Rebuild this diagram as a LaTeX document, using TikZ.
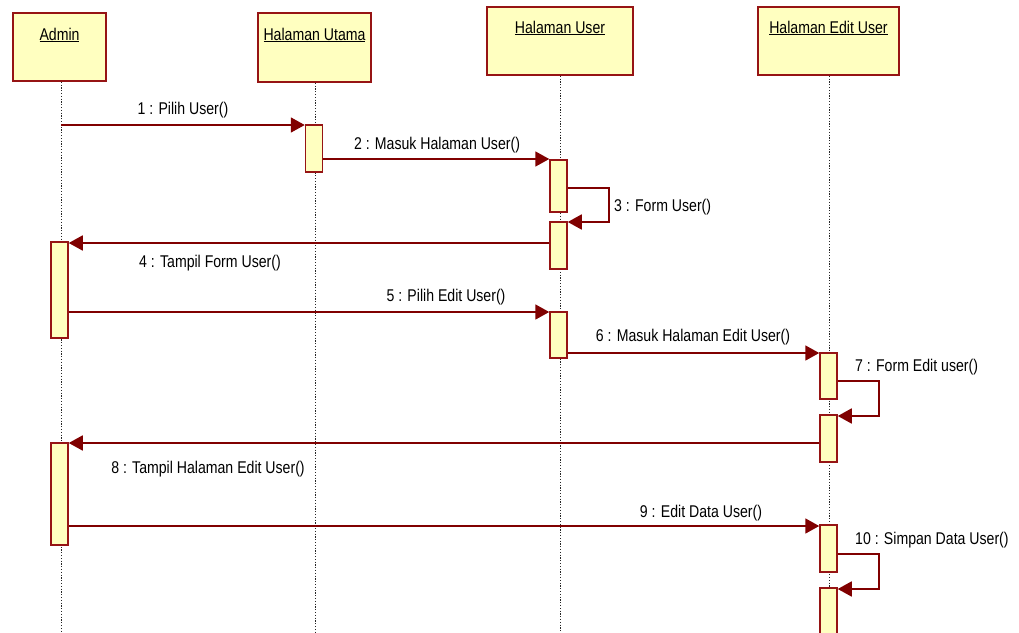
\documentclass[tikz,border=0pt]{standalone}
\usepackage{fontspec}
\setmainfont[FakeStretch=0.83]{Liberation Sans}
\usetikzlibrary{arrows.meta,calc}
\definecolor{boxfill}{RGB}{255,255,192}
\definecolor{boxline}{RGB}{150,20,20}
\definecolor{msgcol}{RGB}{128,0,0}
\begin{document}
\begin{tikzpicture}[x=1pt,y=-1pt,
  head/.style={draw=boxline,fill=boxfill,line width=1.5pt,inner sep=0pt},
  headtxt/.style={inner sep=0pt,font=\fontsize{17}{19}\selectfont},
  act/.style={draw=boxline,fill=boxfill,line width=1.5pt,inner sep=0pt,minimum width=17pt,anchor=north},
  life/.style={draw=black!85,line width=1pt,dash pattern=on 1.2pt off 1.6pt},
  msg/.style={draw=msgcol,line width=1.8pt,-{Triangle[length=14pt,width=15pt]}},
  lbl/.style={inner sep=0pt,font=\fontsize{17}{19}\selectfont}]
\useasboundingbox (0,0) rectangle (1019,632);
% heads
\node[head,minimum width=93pt,minimum height=68pt] (admin) at (59.5,47) {};
\node[head,minimum width=113pt,minimum height=69pt] (hutama) at (314.5,47.5) {};
\node[head,minimum width=146pt,minimum height=68pt] (huser) at (560,41) {};
\node[head,minimum width=141pt,minimum height=68pt] (hedit) at (828.5,41) {};
\node[headtxt] (adminT) at (59.5,35) {\underline{Admin}};
\node[headtxt] (hutamaT) at (314.5,35) {\underline{Halaman Utama}};
\node[headtxt] (huserT) at (560,28) {\underline{Halaman User}};
\node[headtxt] (heditT) at (828.5,28) {\underline{Halaman Edit User}};
% lifelines
\coordinate (adminE) at (61,632);
\coordinate (hutamaE) at (315,632);
\coordinate (huserE) at (560,632);
\coordinate (heditE) at (829,632);
\draw[life] (admin.south -| adminE) -- (adminE);
\draw[life] (hutama.south -| hutamaE) -- (hutamaE);
\draw[life] (huser.south -| huserE) -- (huserE);
\draw[life] (hedit.south -| heditE) -- (heditE);
% activations
\node[act,minimum height=96pt] (adA) at (59.5,241) {};
\node[act,minimum height=102pt] (adB) at (59.5,442) {};
\node[act,minimum height=47pt] (utA) at (314,124) {};
\node[act,minimum height=52pt] (usA) at (558.5,159) {};
\node[act,minimum height=47pt] (usB) at (558.5,221) {};
\node[act,minimum height=46pt] (usC) at (558.5,311) {};
\node[act,minimum height=46pt] (edA) at (828.5,352) {};
\node[act,minimum height=47pt] (edB) at (828.5,414) {};
\node[act,minimum height=47pt] (edC) at (828.5,524) {};
\node[act,minimum height=60pt] (edD) at (828.5,587) {};
% messages
\draw[msg] (adminE |- 0,125) -- (utA.west |- 0,125);
\draw[msg] (utA.east |- 0,159) -- (usA.west |- 0,159);
\draw[msg] (usA.east |- 0,188) -- (609,188) |- (usB.east |- 0,222);
\draw[msg] (usB.west |- 0,243) -- (adA.east |- 0,243);
\draw[msg] (adA.east |- 0,312) -- (usC.west |- 0,312);
\draw[msg] (usC.east |- 0,353) -- (edA.west |- 0,353);
\draw[msg] (edA.east |- 0,381) -- (879,381) |- (edB.east |- 0,416);
\draw[msg] (edB.west |- 0,443) -- (adB.east |- 0,443);
\draw[msg] (adB.east |- 0,526) -- (edC.west |- 0,526);
\draw[msg] (edC.east |- 0,554) -- (879,554) |- (edD.east |- 0,589);
% labels
\node[lbl] (l1) at (183,110) {1 : Pilih User()};
\node[lbl] (l2) at (437,145) {2 : Masuk Halaman User()};
\node[lbl,anchor=west] (l3) at (614,207) {3 : Form User()};
\node[lbl] (l4) at (210,263) {4 : Tampil Form User()};
\node[lbl] (l5) at (446,297) {5 : Pilih Edit User()};
\node[lbl] (l6) at (693,337) {6 : Masuk Halaman Edit User()};
\node[lbl,anchor=west] (l7) at (855,367) {7 : Form Edit user()};
\node[lbl] (l8) at (208,469) {8 : Tampil Halaman Edit User()};
\node[lbl] (l9) at (701,513) {9 : Edit Data User()};
\node[lbl,anchor=west] (l10) at (855,540) {10 : Simpan Data User()};
\end{tikzpicture}
\end{document}
